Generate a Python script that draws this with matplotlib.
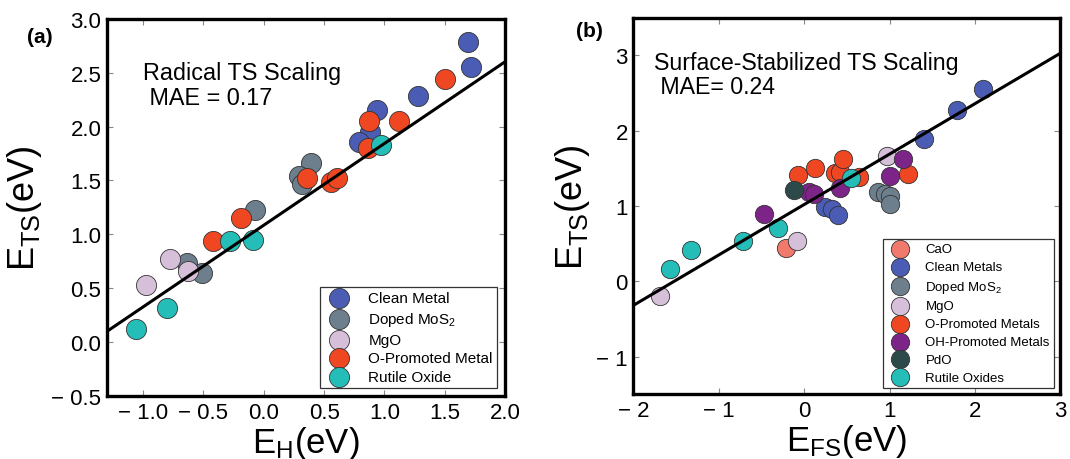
import matplotlib
matplotlib.use("Agg")
import matplotlib.pyplot as plt
from matplotlib.ticker import FixedLocator, FixedFormatter

plt.rcParams['font.family'] = ['Liberation Sans', 'DejaVu Sans']
plt.rcParams['mathtext.fontset'] = 'custom'
plt.rcParams['mathtext.rm'] = 'Liberation Sans'
plt.rcParams['mathtext.it'] = 'Liberation Sans'

# ---------------- Panel (a) data: Radical TS scaling ----------------
a_clean_x = [1.69, 1.72, 1.28, 0.94, 0.88, 0.79]
a_clean_y = [2.78, 2.55, 2.28, 2.15, 1.95, 1.86]
a_mos2_x = [-0.07, 0.39, 0.29, 0.32, -0.64, -0.51]
a_mos2_y = [1.23, 1.66, 1.54, 1.47, 0.73, 0.64]
a_mgo_x = [-0.98, -0.78, -0.63]
a_mgo_y = [0.53, 0.77, 0.66]
a_opro_x = [1.50, 1.12, 0.87, 0.86, 0.36, 0.56, 0.61, -0.19, -0.42]
a_opro_y = [2.44, 2.05, 2.05, 1.80, 1.52, 1.49, 1.52, 1.15, 0.94]
a_rut_x = [0.97, -0.09, -0.28, -0.80, -1.06]
a_rut_y = [1.83, 0.95, 0.94, 0.32, 0.125]
a_fit_slope = 0.758
a_fit_intercept = 1.085
a_xlim = [-1.3, 2.0]
a_ylim = [-0.5, 3.0]
a_xticks = [-1.0, -0.5, 0.0, 0.5, 1.0, 1.5, 2.0]
a_xticklabels = ['\u2212 1.0', '\u2212 0.5', '0.0', '0.5', '1.0', '1.5', '2.0']
a_yticks = [-0.5, 0.0, 0.5, 1.0, 1.5, 2.0, 2.5, 3.0]
a_yticklabels = ['\u2212 0.5', '0.0', '0.5', '1.0', '1.5', '2.0', '2.5', '3.0']

# ---------------- Panel (b) data: Surface-stabilized TS scaling ----------------
b_cao_x = [-0.21]
b_cao_y = [0.44]
b_clean_x = [2.09, 1.79, 1.40, 0.24, 0.33, 0.39]
b_clean_y = [2.56, 2.28, 1.89, 0.99, 0.96, 0.88]
b_mos2_x = [0.86, 0.95, 1.01, 1.01]
b_mos2_y = [1.19, 1.16, 1.13, 1.03]
b_mgo_x = [-0.09, -1.69, 0.97]
b_mgo_y = [0.53, -0.19, 1.67]
b_opro_x = [-0.07, 0.13, 0.36, 0.42, 0.46, 0.64, 1.22]
b_opro_y = [1.41, 1.50, 1.44, 1.45, 1.62, 1.39, 1.42]
b_ohpro_x = [-0.47, 0.06, 0.11, 0.42, 1.01, 1.16]
b_ohpro_y = [0.89, 1.18, 1.16, 1.24, 1.40, 1.63]
b_pdo_x = [-0.12]
b_pdo_y = [1.21]
b_rut_x = [0.55, -0.31, -0.72, -1.33, -1.57]
b_rut_y = [1.37, 0.71, 0.54, 0.41, 0.16]
b_fit_slope = 0.67
b_fit_intercept = 1.02
b_xlim = [-2, 3]
b_ylim = [-1.5, 3.5]
b_xticks = [-2, -1, 0, 1, 2, 3]
b_xticklabels = ['\u2212 2', '\u2212 1', '0', '1', '2', '3']
b_yticks = [-1, 0, 1, 2, 3]
b_yticklabels = ['\u2212 1', '0', '1', '2', '3']

C_CLEAN = '#4a5cb3'
C_MOS2 = '#6d7e8c'
C_MGO = '#d6bfd9'
C_OPRO = '#ef4722'
C_RUT = '#24bdb8'
C_CAO = '#f27a6c'
C_OHPRO = '#7d2488'
C_PDO = '#2d4a4a'

fig = plt.figure(figsize=(10.7, 4.6), dpi=100)
ax_a = fig.add_axes([0.100, 0.137, 0.372, 0.820])
ax_b = fig.add_axes([0.592, 0.141, 0.399, 0.818])


def style(ax, xlim, ylim, xt, xtl, yt, ytl):
    ax.set_xlim(xlim)
    ax.set_ylim(ylim)
    ax.xaxis.set_major_locator(FixedLocator(xt))
    ax.xaxis.set_major_formatter(FixedFormatter(xtl))
    ax.yaxis.set_major_locator(FixedLocator(yt))
    ax.yaxis.set_major_formatter(FixedFormatter(ytl))
    ax.tick_params(direction='in', length=4, width=0.8, top=True, right=True,
                   labelsize=16, pad=4, color='#888888')
    for s in ax.spines.values():
        s.set_linewidth(2.4)
        s.set_color('black')


sa = 210
ek = dict(edgecolor='#333333', linewidths=0.6, zorder=3)
ax_a.scatter(a_clean_x, a_clean_y, s=sa, color=C_CLEAN, label='Clean Metal', **ek)
ax_a.scatter(a_mos2_x, a_mos2_y, s=sa, color=C_MOS2, label='Doped MoS$_2$', **ek)
ax_a.scatter(a_mgo_x, a_mgo_y, s=sa, color=C_MGO, label='MgO', **ek)
ax_a.scatter(a_opro_x, a_opro_y, s=sa, color=C_OPRO, label='O-Promoted Metal', **ek)
ax_a.scatter(a_rut_x, a_rut_y, s=sa, color=C_RUT, label='Rutile Oxide', **ek)
ax_a.plot(a_xlim, [a_fit_slope * v + a_fit_intercept for v in a_xlim],
          color='black', lw=2.2, zorder=4)
style(ax_a, a_xlim, a_ylim, a_xticks, a_xticklabels, a_yticks, a_yticklabels)
ax_a.set_xlabel('E$_{\\mathrm{H}}$(eV)', fontsize=25, labelpad=1)
ax_a.set_ylabel('E$_{\\mathrm{TS}}$(eV)', fontsize=26, labelpad=5)
ax_a.text(-1.0, 2.44, 'Radical TS Scaling', fontsize=16.8)
ax_a.text(-1.0, 2.21, ' MAE = 0.17', fontsize=16.8)
leg = ax_a.legend(loc='lower right', fontsize=11, scatterpoints=1, frameon=True,
                  fancybox=False, borderaxespad=0.5, labelspacing=0.3,
                  handletextpad=0.9, borderpad=0.3, markerscale=1.0)
leg.get_frame().set_edgecolor('black')
leg.get_frame().set_linewidth(0.9)
fig.text(0.025, 0.907, '(a)', fontsize=15, fontweight='bold')

sb = 175
ax_b.scatter(b_cao_x, b_cao_y, s=sb, color=C_CAO, label='CaO', **ek)
ax_b.scatter(b_clean_x, b_clean_y, s=sb, color=C_CLEAN, label='Clean Metals', **ek)
ax_b.scatter(b_mos2_x, b_mos2_y, s=sb, color=C_MOS2, label='Doped MoS$_2$', **ek)
ax_b.scatter(b_mgo_x, b_mgo_y, s=sb, color=C_MGO, label='MgO', **ek)
ax_b.scatter(b_opro_x, b_opro_y, s=sb, color=C_OPRO, label='O-Promoted Metals', **ek)
ax_b.scatter(b_ohpro_x, b_ohpro_y, s=sb, color=C_OHPRO, label='OH-Promoted Metals', **ek)
ax_b.scatter(b_pdo_x, b_pdo_y, s=sb, color=C_PDO, label='PdO', **ek)
ax_b.scatter(b_rut_x, b_rut_y, s=sb, color=C_RUT, label='Rutile Oxides', **ek)
ax_b.plot(b_xlim, [b_fit_slope * v + b_fit_intercept for v in b_xlim],
          color='black', lw=2.2, zorder=4)
style(ax_b, b_xlim, b_ylim, b_xticks, b_xticklabels, b_yticks, b_yticklabels)
ax_b.set_xlabel('E$_{\\mathrm{FS}}$(eV)', fontsize=25, labelpad=1)
ax_b.set_ylabel('E$_{\\mathrm{TS}}$(eV)', fontsize=26, labelpad=3)
ax_b.text(-1.76, 2.82, 'Surface-Stabilized TS Scaling', fontsize=16.7)
ax_b.text(-1.76, 2.50, ' MAE= 0.24', fontsize=16.7)
leg = ax_b.legend(loc='lower right', fontsize=9.5, scatterpoints=1, frameon=True,
                  fancybox=False, borderaxespad=0.45, labelspacing=0.42,
                  handletextpad=0.9, borderpad=0.35, markerscale=1.0)
leg.get_frame().set_edgecolor('black')
leg.get_frame().set_linewidth(0.9)
fig.text(0.538, 0.92, '(b)', fontsize=15, fontweight='bold')

fig.savefig('out.png', dpi=100)
